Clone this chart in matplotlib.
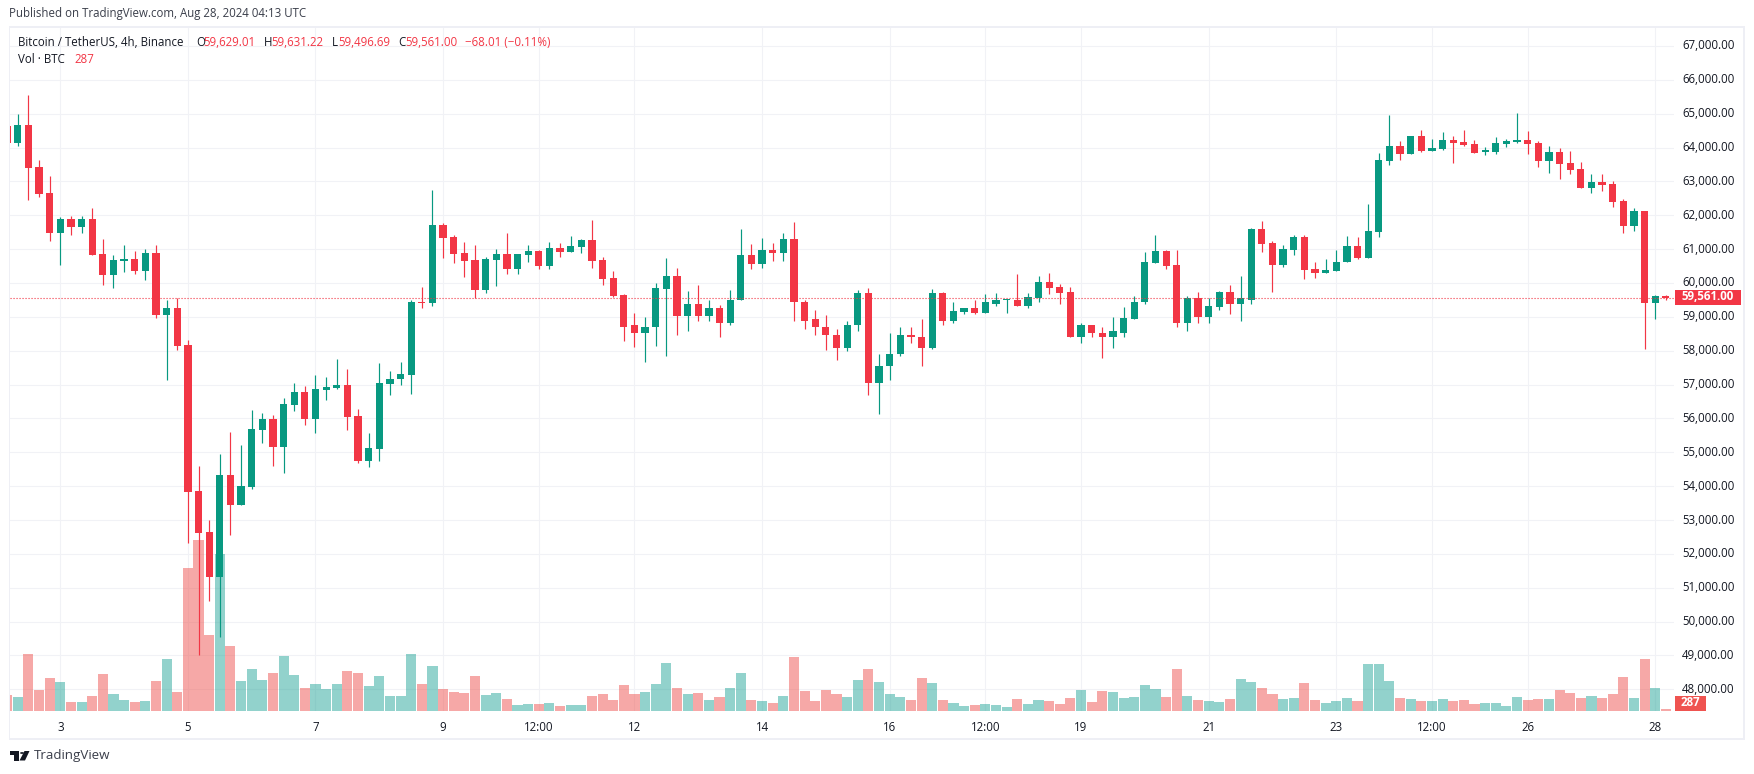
import matplotlib
matplotlib.use("Agg")
import matplotlib.pyplot as plt
from matplotlib.patches import Polygon, Rectangle, Circle
from matplotlib.transforms import ScaledTranslation
import numpy as np

W, H = 1754, 774
FONT = "Open Sans"
UP = "#089981"
DOWN = "#f23645"
UP_VOL = "#26a69a"
DOWN_VOL = "#ef5350"
GRID = "#f1f2f6"
FRAME = "#eeeff5"
TEXT = "#131722"

# 4h bars, bar 0 is the "3" tick, the first bar is clipped by the pane edge
first_bar = -5

opens = [
    64630, 64148, 64659, 63419, 62647, 61466, 61903, 61641, 61903, 60868,
    60226, 60664, 60722, 60343, 60897, 59045, 59249, 58156, 53870, 52660,
    51303, 54322, 53432, 53986, 55648, 55998, 55167, 56392, 56771, 55998,
    56829, 56887, 56975, 56086, 54730, 55109, 57004, 57150, 57296, 59439,
    59395, 61722, 61359, 60890, 60691, 59800, 60691, 60867, 60422, 60832,
    60949, 60515, 61043, 60926, 61066, 61277, 60691, 60152, 59660, 58746,
    58511, 58687, 59836, 60211, 59039, 59367, 59039, 59273, 58828, 59484,
    60832, 60574, 60984, 60890, 61300, 59449, 58922, 58710, 58476, 58066,
    58746, 59718, 57046, 57538, 57890, 58476, 58418, 58066, 59718, 58863,
    59156, 59273, 59121, 59390, 59484, 59507, 59332, 59566, 60035, 59894,
    59742, 58418, 58769, 58535, 58394, 58535, 58945, 59425, 60597, 60949,
    60539, 58828, 59543, 59004, 59297, 59742, 59367, 59507, 61594, 61183,
    60539, 60984, 61353, 60413, 60295, 60347, 60608, 61092, 60739, 61510,
    63602, 64046, 63824, 64333, 63902, 63954, 64216, 64163, 64098, 63876,
    63863, 64098, 64177, 64216, 64137, 63602, 63863, 63536, 63366, 62804,
    62974, 62922, 62425, 61680, 62125, 59419, 59629,
]
highs = [
    64900, 64979, 65548, 63623, 63171, 61947, 61990, 61990, 62209, 61291,
    60839, 61116, 60941, 60999, 61116, 59483, 59570, 58302, 54584, 53005,
    54963, 55590, 55211, 56261, 56173, 56115, 56596, 57033, 56946, 57296,
    57238, 57748, 57471, 56290, 55561, 57631, 57413, 57660, 59512, 59876,
    62734, 61781, 61418, 61219, 61125, 60773, 61008, 61476, 60867, 61125,
    60972, 61219, 61183, 61394, 61300, 61863, 60773, 60363, 59683, 59121,
    59004, 60011, 60750, 60445, 59777, 59953, 59507, 59355, 59800, 61594,
    61160, 61336, 61183, 61476, 61804, 59484, 59214, 59062, 58652, 58886,
    59800, 59859, 57913, 58535, 58687, 58710, 58945, 59836, 59742, 59425,
    59273, 59507, 59683, 59718, 59519, 60269, 59718, 60211, 60304, 59976,
    59894, 58804, 58769, 58687, 59004, 59297, 59625, 60926, 61418, 60984,
    60984, 59625, 59742, 59543, 59777, 59953, 60211, 61629, 61840, 61242,
    61125, 61418, 61419, 60622, 60713, 60974, 61393, 61353, 62334, 63837,
    64961, 64203, 64333, 64516, 64255, 64464, 64333, 64516, 64216, 64020,
    64307, 64255, 65013, 64490, 64203, 64046, 63980, 63902, 63575, 63222,
    63222, 63000, 62490, 62203, 62125, 59654, 59631,
]
lows = [
    64000, 64032, 62442, 62530, 61232, 60518, 61407, 61466, 60839, 59935,
    59847, 60314, 60255, 60080, 58958, 57121, 58010, 52310, 49000, 50618,
    49539, 52543, 53432, 53928, 55269, 54584, 54380, 56232, 55794, 55561,
    56538, 56858, 55648, 54671, 54555, 54730, 56683, 56975, 56713, 59249,
    59308, 60750, 60597, 60187, 59566, 59718, 59918, 60269, 60269, 60633,
    60422, 60422, 60773, 60926, 60890, 60445, 59953, 59590, 58300, 58124,
    57679, 58148, 57832, 58476, 58570, 58863, 58863, 58418, 58746, 59484,
    60422, 60445, 60656, 60656, 58863, 58652, 58453, 58031, 57738, 57984,
    58570, 56706, 56120, 57128, 57832, 58242, 57562, 58042, 58746, 58804,
    59074, 59097, 59121, 59332, 59121, 59332, 59273, 59449, 59683, 59390,
    58418, 58242, 58394, 57796, 58066, 58418, 58945, 59390, 60597, 60422,
    58711, 58570, 58828, 58804, 59215, 59097, 58863, 59390, 60926, 59742,
    60480, 60832, 60112, 60151, 60295, 60347, 60608, 60713, 60739, 61367,
    63484, 63628, 63824, 63863, 63902, 63928, 63536, 64033, 63837, 63784,
    63824, 64020, 64137, 63811, 63419, 63249, 63066, 63222, 62804, 62660,
    62726, 62242, 61471, 61536, 58047, 58935, 59497,
]
closes = [
    64148, 64659, 63390, 62617, 61466, 61903, 61641, 61903, 60839, 60226,
    60693, 60722, 60343, 60897, 59045, 59249, 58127, 53840, 52630, 51303,
    54322, 53432, 54015, 55677, 55998, 55167, 56421, 56771, 55998, 56858,
    56917, 56975, 56057, 54730, 55138, 57033, 57179, 57325, 59424, 59410,
    61722, 61336, 60867, 60656, 59800, 60715, 60867, 60422, 60867, 60949,
    60515, 61043, 60926, 61101, 61277, 60656, 60129, 59625, 58710, 58511,
    58710, 59859, 60211, 59039, 59367, 59039, 59273, 58828, 59507, 60832,
    60574, 60984, 60890, 61300, 59425, 58886, 58687, 58453, 58066, 58769,
    59718, 57046, 57562, 57913, 58476, 58394, 58066, 59718, 58863, 59179,
    59273, 59121, 59425, 59507, 59507, 59332, 59601, 60035, 59859, 59718,
    58418, 58769, 58511, 58394, 58570, 58980, 59449, 60633, 60949, 60515,
    58828, 59543, 59004, 59332, 59742, 59367, 59543, 61594, 61160, 60539,
    61008, 61353, 60386, 60295, 60386, 60622, 61092, 60739, 61536, 63628,
    64046, 63824, 64333, 63902, 63980, 64216, 64137, 64072, 63837, 63915,
    64137, 64190, 64216, 64098, 63602, 63863, 63510, 63340, 62804, 62974,
    62896, 62386, 61680, 62125, 59419, 59628, 59561,
]
volumes = [
    2540, 2220, 9130, 3330, 5240, 4610, 1430, 1430, 2380, 5960,
    2700, 1750, 1430, 1590, 4760, 8340, 3020, 22950, 27470, 12230,
    25250, 10400, 4760, 6750, 4920, 6110, 8810, 5800, 3650, 4290,
    3490, 4290, 6430, 6110, 3970, 5640, 2380, 2380, 9130, 4290,
    7230, 3580, 3070, 2940, 5630, 2620, 2940, 1920, 960, 1150,
    1150, 1280, 830, 960, 960, 2430, 2750, 1790, 4220, 2750,
    3070, 4350, 7740, 3710, 2750, 2940, 1790, 2240, 3710, 6140,
    1790, 1600, 1280, 2430, 8700, 3260, 1600, 3390, 2750, 2240,
    4990, 6780, 4670, 2750, 2240, 1790, 5310, 4540, 1790, 1280,
    830, 960, 1150, 960, 640, 1920, 1150, 1790, 1600, 1150,
    2110, 3390, 1470, 3260, 3070, 2110, 2240, 4220, 3580, 2240,
    6780, 2430, 1790, 1600, 1470, 1920, 5180, 4670, 3710, 2750,
    1920, 2060, 4470, 1700, 1210, 1560, 2060, 1560, 7530, 7530,
    4900, 2060, 1850, 1560, 1560, 1850, 1560, 1700, 1070, 1210,
    1210, 780, 2200, 1700, 1850, 1850, 3340, 2910, 2060, 2340,
    2060, 2700, 5400, 2060, 8310, 3620, 287,
]

time_ticks = [0, 12, 24, 36, 45, 54, 66, 78, 87, 96, 108, 120, 129, 138, 150]
time_labels = ["3", "5", "7", "9", "12:00", "12", "14", "16", "12:00", "19",
               "21", "23", "12:00", "26", "28"]
price_ticks = list(range(48000, 68000, 1000))
last_price = 59561
last_volume = 287

# pane edges, in pixels from the top-left corner
LEFT, RIGHT, TOP, BOTTOM = 10, 1674, 27, 711


def fx(px):
    return px / W


def fy(px):
    return 1 - px / H


def put(x, y, s, color=TEXT, size=8.3, **kw):
    kw.setdefault("va", "center")
    fig.text(fx(x), fy(y), s, color=color, fontsize=size, family=FONT, **kw)


def box(x0, y0, x1, y1, color):
    fig.add_artist(Rectangle((fx(x0), fy(y1)), (x1 - x0) / W, (y1 - y0) / H,
                             facecolor=color, edgecolor="none",
                             transform=fig.transFigure))


fig = plt.figure(figsize=(W / 100, H / 100), dpi=100, facecolor="white")
pos = [fx(LEFT), fy(BOTTOM), (RIGHT - LEFT) / W, (BOTTOM - TOP) / H]

xlim = ((LEFT - 60.3) / 10.633, (RIGHT - 60.3) / 10.633)
price_lim = (47360, 67560)

# bottom layer: grid and the two axes
ax = fig.add_axes(pos)
ax.set_xlim(xlim)
ax.set_ylim(price_lim)
ax.set_xticks(time_ticks, time_labels, family=FONT, fontsize=8.3, color=TEXT)
ax.set_yticks(price_ticks, [f"{p:,.2f}" for p in price_ticks],
              family=FONT, fontsize=8.3, color=TEXT)
ax.grid(True, color=GRID, linewidth=0.8)
for spine in ax.spines.values():
    spine.set_visible(False)

bars = np.arange(len(closes)) + first_bar
rising = np.array(closes) >= np.array(opens)
o = np.array(opens)
c = np.array(closes)

# volume overlay
vol_ax = ax.twinx()
vol_ax.set_ylim(0, 110000)
vol_ax.axis("off")
vol_ax.bar(bars, volumes, width=0.95, linewidth=0,
           color=[UP_VOL if r else DOWN_VOL for r in rising], alpha=0.5)
vol_ax.set_xlim(xlim)

# candles
candle_ax = ax.twinx()
candle_ax.set_ylim(price_lim)
candle_ax.axis("off")
colors = [UP if r else DOWN for r in rising]
candle_ax.vlines(bars, lows, highs, colors=colors, linewidth=0.85)
candle_ax.bar(bars, np.maximum(np.abs(c - o), 35), bottom=np.minimum(o, c),
              width=0.68, color=colors, linewidth=0)
candle_ax.axhline(last_price, color=DOWN, linewidth=0.8, linestyle=(0, (1, 1.7)))
candle_ax.set_xlim(xlim)

# twinx moved the ticks to the left, put them back on the price side
ax.yaxis.tick_right()
ax.tick_params(axis="both", length=0)
ax.tick_params(axis="x", pad=7.5)
ax.tick_params(axis="y", pad=5.8)
nudge = ScaledTranslation(0, 1.5 / 100, fig.dpi_scale_trans)
for label in ax.get_yticklabels():
    label.set_transform(label.get_transform() + nudge)

# outer frame
box(9, 25.5, 1745, 27.5, FRAME)
box(9, 738, 1745, 740, FRAME)
box(8.5, 25.5, 10, 740, FRAME)
box(1743, 25.5, 1745, 740, FRAME)

# header texts
put(9, 14, "Published on TradingView.com, Aug 28, 2024 04:13 UTC", color="#3a3e4a")
put(18, 42, "Bitcoin / TetherUS, 4h, Binance")
for x, s in [(196, "O"), (263.5, "H"), (332, "L"), (398, "C")]:
    put(x, 42, s)
for x, s in [(203.5, "59,629.01"), (271, "59,631.22"), (338, "59,496.69"),
             (405.5, "59,561.00"), (465, "\u221268.01 (\u22120.11%)")]:
    put(x, 42, s, color=DOWN)
put(18, 59.5, "Vol \u00b7 BTC")
put(74, 59.5, str(last_volume), color=DOWN)

# last price / last volume tags
box(1675, 289.7, 1740.7, 305, DOWN)
put(1682, 296.8, f"{last_price:,.2f}", color="white", weight="bold")
box(1675, 695.7, 1706, 710.7, DOWN_VOL)
put(1690.5, 702.8, str(last_volume), color="white", weight="bold", ha="center")

# TradingView mark
logo = "#131722"
pts_a = [(10, 751), (18.5, 751), (18.5, 760.5), (14, 760.5), (14, 755), (10, 755)]
pts_b = [(24.5, 751), (29.5, 751), (25, 760.5), (19.5, 760.5)]
for pts in (pts_a, pts_b):
    fig.add_artist(Polygon([(fx(x), fy(y)) for x, y in pts], color=logo,
                           linewidth=0, transform=fig.transFigure))
fig.add_artist(Circle((fx(22), fy(753)), 2 / W, color=logo, linewidth=0,
                      transform=fig.transFigure))
put(34, 756, "TradingView", color="#3a3e4a", size=9.6)

fig.savefig("out.png", dpi=100)
